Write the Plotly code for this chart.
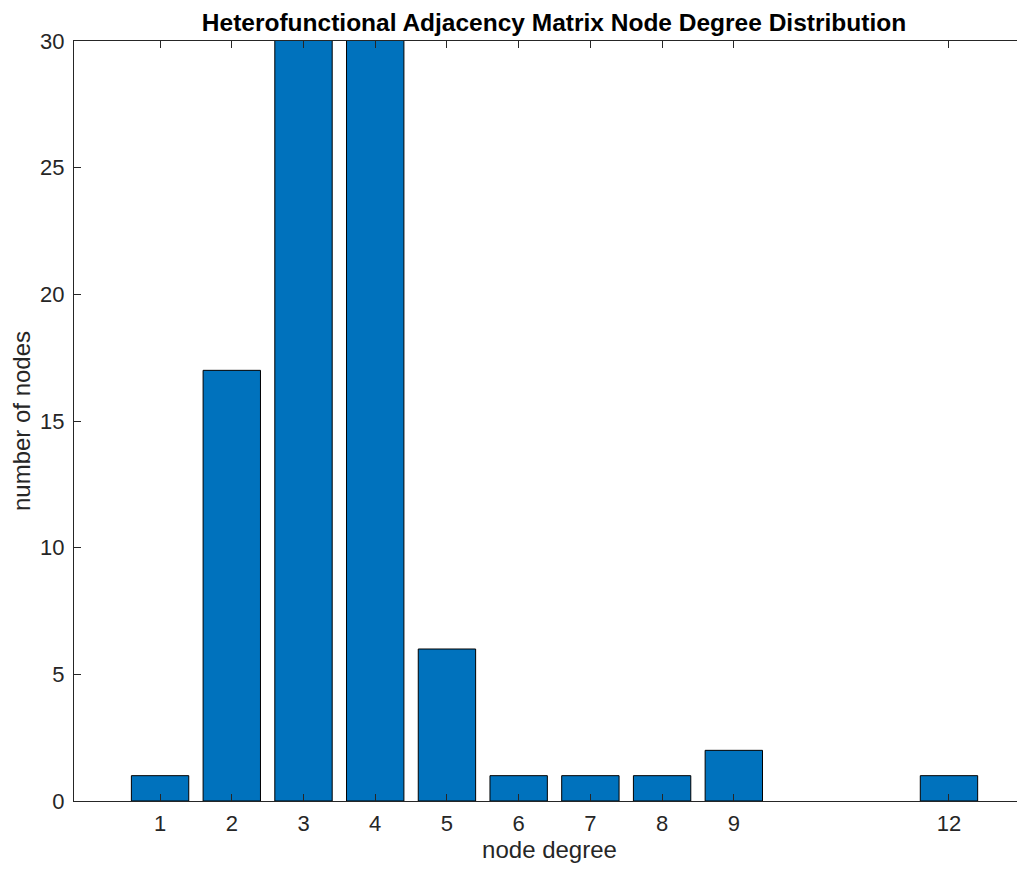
import plotly.graph_objects as go

degrees = [1, 2, 3, 4, 5, 6, 7, 8, 9, 12]
counts = [1, 17, 38, 34, 6, 1, 1, 1, 2, 1]
tick_vals = [1, 2, 3, 4, 5, 6, 7, 8, 9, 12]
y_ticks = [0, 5, 10, 15, 20, 25, 30]

FONT = "Liberation Sans, Arial, Helvetica, sans-serif"
TXT = "#262626"
W, H = 1017, 862

fig = go.Figure(go.Bar(
    x=degrees, y=counts, width=0.8,
    marker=dict(color="#0072BD", line=dict(color="#000000", width=1)),
))

fig.update_layout(
    width=W, height=H,
    margin=dict(l=66, r=0, t=33, b=69),
    paper_bgcolor="white", plot_bgcolor="white",
    showlegend=False,
    font=dict(family=FONT, color=TXT),
    title=dict(
        text="<b>Heterofunctional Adjacency Matrix Node Degree Distribution</b>",
        x=546 / W, xref="container", xanchor="center",
        y=1 - 14 / H, yref="container", yanchor="middle",
        font=dict(size=24.5, color="#000000", family=FONT),
    ),
)

fig.update_xaxes(
    range=[-0.2, 13.06], tickmode="array", tickvals=tick_vals,
    ticktext=[str(v) for v in tick_vals],
    ticks="inside", ticklen=7, tickcolor="#262626", tickwidth=1,
    showline=True, linecolor="#262626", linewidth=1, mirror="ticks",
    showgrid=False, zeroline=False,
    tickfont=dict(size=22, color=TXT), ticklabelstandoff=3,
    title=dict(text="node degree", font=dict(size=24, color=TXT), standoff=4),
)
fig.update_yaxes(
    range=[0, 30], tickmode="array", tickvals=y_ticks,
    ticks="inside", ticklen=7, tickcolor="#262626", tickwidth=1,
    showline=True, linecolor="#262626", linewidth=1,
    showgrid=False, zeroline=False,
    tickfont=dict(size=22, color=TXT), ticklabelstandoff=4,
    title=dict(text="number of nodes", font=dict(size=24, color=TXT), standoff=5),
)

fig.write_html("out.html")
